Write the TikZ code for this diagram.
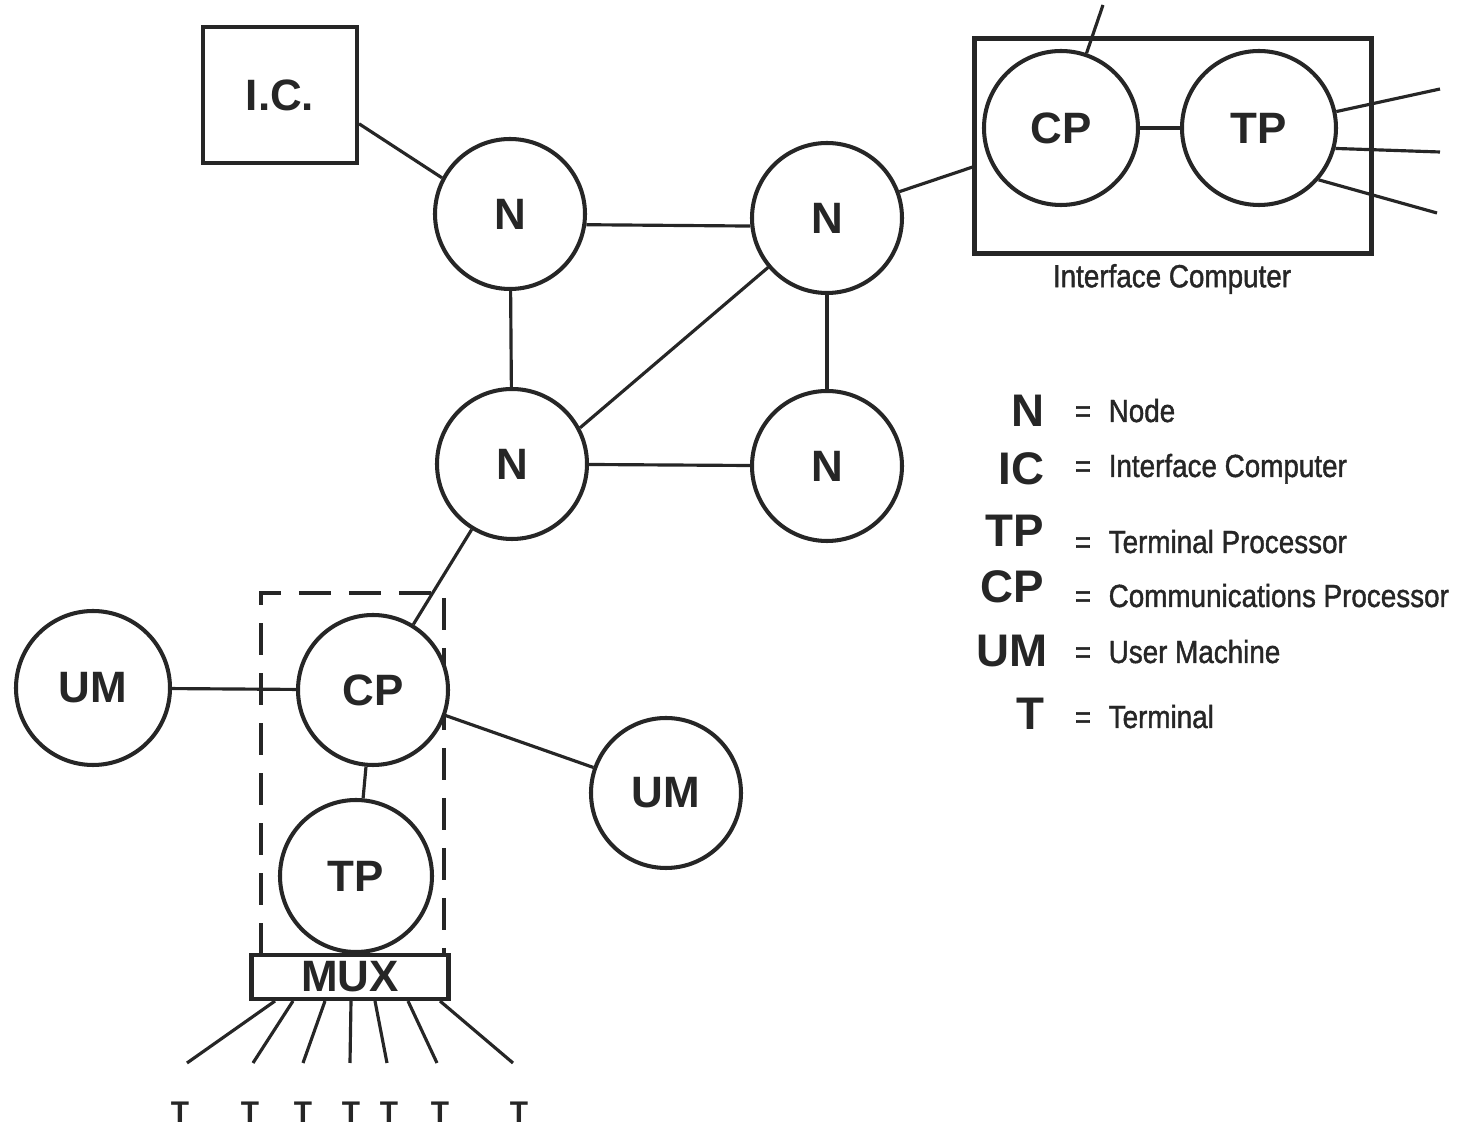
\documentclass[tikz,border=0pt]{standalone}
\usepackage{fontspec}
\setmainfont{Liberation Sans}
\newfontfamily\descfont[FakeStretch=0.87,FakeBold=1.3]{Liberation Sans}
\usetikzlibrary{positioning}
\definecolor{ink}{RGB}{38,38,38}

\begin{document}
\begin{tikzpicture}[x=0.1mm, y=-0.1mm, color=ink,
		proc/.style={circle,draw,fill=white,line width=1.15pt,minimum size=15mm,inner sep=0pt,font=\fontsize{12.5}{14}\selectfont\bfseries},
		box/.style={rectangle,draw,line width=1.15pt,inner sep=0pt},
		link/.style={line width=0.9pt},
		legabbr/.style={anchor=base east,inner sep=0pt,font=\fontsize{13}{15}\selectfont\bfseries},
		legtext/.style={anchor=base west,inner sep=0pt,font=\descfont\fontsize{9.1}{11}\selectfont},
		term/.style={inner sep=0pt,font=\fontsize{8.5}{10}\selectfont\bfseries}]
		
		\useasboundingbox (0,0) rectangle (1458,1134);
		
		% dashed host boundary (behind the circles)
		\draw [link,dash pattern=on 3.2mm off 1.8mm] (261,955) -- (261,593) -- (444,593) -- (444,955);
		
		% Network nodes
		\node[box,minimum width=15.4mm,minimum height=13.6mm,font=\fontsize{12.5}{14}\selectfont\bfseries] (ic) at (280,95) {I.C.};
		\node[proc] (n1) at (510,214) {N};
		\node[proc] (n2) at (827,218) {N};
		\node[proc] (n3) at (512,464) {N};
		\node[proc] (n4) at (827,466) {N};
		
		% Interface computer (top right)
		\node[box,minimum width=39.7mm,minimum height=21.5mm] (icbox) at (1173,146) {};
		\node[proc,minimum size=15.4mm] (iccp) at (1061,128) {CP};
		\node[proc,minimum size=15.4mm] (ictp) at (1259,128) {TP};
		\node[legtext,anchor=center] (iclabel) at (1172,279) {Interface Computer};
		\coordinate (icup) at (1103,5);
		\coordinate (icr1) at (1440,89);
		\coordinate (icr2) at (1440,152);
		\coordinate (icr3) at (1437,213);
		
		% Host site (bottom left)
		\node[proc] (cp) at (373,690) {CP};
		\node[proc,minimum size=15.4mm] (um1) at (93,688) {UM};
		\node[proc] (um2) at (666,793) {UM};
		\node[proc,minimum size=15.2mm] (tp) at (356,876) {TP};
		\node[box,minimum width=19.7mm,minimum height=4.4mm,fill=white,font=\fontsize{12.5}{14}\selectfont\bfseries] (mux) at (350,977) {MUX};
		
		% Links
		\draw [link] (ic.-20) -- (n1.152);
		\draw [link] (n1.-8) -- (n2.186);
		\draw [link] (n1) -- (n3);
		\draw [link] (n2) -- (n4);
		\draw [link] (n2.220) -- (n3.28);
		\draw [link] (n3) -- (n4);
		\draw [link] (n2.20) -- (icbox.186);
		\draw [link] (iccp) -- (ictp);
		\draw [link] (iccp) -- (icup);
		\draw [link] (ictp.12) -- (icr1);
		\draw [link] (ictp.-15) -- (icr2);
		\draw [link] (ictp.-41) -- (icr3);
		\draw [link] (n3) -- (cp);
		\draw [link] (um1) -- (cp);
		\draw [link] (cp) -- (um2);
		\draw [link] (cp) -- (tp);
		
		% Terminals off the MUX
		\foreach \i/\a/\b/\c in {1/275/187/180, 2/293/253/250, 3/325/303/303, 4/351/350/351, 5/375/387/389, 6/408/437/440, 7/440/513/519} {
			\coordinate (e\i) at (\b,1063);
			\node[term] (t\i) at (\c,1112) {T};
			\draw [link] (mux.south -| \a,0) -- (e\i);
		}
		
		% Legend
		\node[legabbr] (kn) at (1045,427) {N};
		\node[legabbr] (kic) at (1045,485) {IC};
		\node[legabbr] (ktp) at (1045,547) {TP};
		\node[legabbr] (kcp) at (1045,603) {CP};
		\node[legabbr] (kum) at (1048,667) {UM};
		\node[legabbr] (kt) at (1045,730) {T};
		\foreach \y/\txt in {422/Node, 477/Interface Computer, 553/Terminal Processor, 607/Communications Processor, 663/User Machine, 728/Terminal} {
			\node[legtext,anchor=base] at (1083,\y) {=};
			\node[legtext] at (1108,\y) {\txt};
		}
\end{tikzpicture}
\end{document}
